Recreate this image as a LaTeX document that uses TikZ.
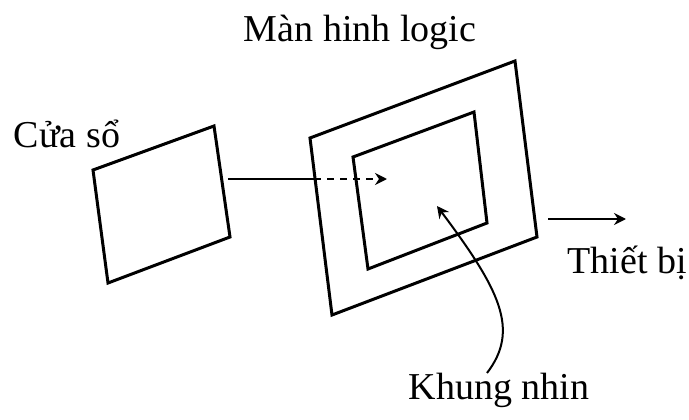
\documentclass[tikz,border=0pt]{standalone}
\usepackage{fontspec}
\setmainfont{Liberation Serif}
\usetikzlibrary{arrows.meta}
\begin{document}
\begin{tikzpicture}[x=1pt,y=-1pt,
  frame/.style={line width=3pt,line join=miter},
  lbl/.style={inner sep=0pt,font=\fontsize{38}{44}\selectfont},
  arr/.style={line width=2pt,-{Stealth[length=12pt,width=12pt,inset=4pt]}}]
\useasboundingbox (0,0) rectangle (689,420);
% window
\coordinate (w1) at (93,170);
\coordinate (w2) at (214,126);
\coordinate (w3) at (230,237);
\coordinate (w4) at (108,283);
\draw[frame] (w1) -- (w2) -- (w3) -- (w4) -- cycle;
% logic screen
\coordinate (s1) at (310,138);
\coordinate (s2) at (515,61);
\coordinate (s3) at (537,237);
\coordinate (s4) at (332,315);
\draw[frame] (s1) -- (s2) -- (s3) -- (s4) -- cycle;
% viewport
\coordinate (v1) at (353,157);
\coordinate (v2) at (474,112);
\coordinate (v3) at (487,223);
\coordinate (v4) at (368,269);
\draw[frame] (v1) -- (v2) -- (v3) -- (v4) -- cycle;
% labels
\node[lbl] (cuaso) at (67,134) {Cửa sổ};
\node[lbl] (manhinh) at (360,32) {Màn hinh logic};
\node[lbl] (thietbi) at (627,263) {Thiết bị};
\node[lbl] (khung) at (499,390) {Khung nhin};
% mapping arrow
\coordinate (a0) at (228,179);
\coordinate (a1) at (314,179);
\coordinate (a2) at (387,179);
\draw[line width=2pt] (a0) -- (a1);
\draw[arr,dash pattern=on 7pt off 6pt] (a1) -- (a2);
% device arrow
\coordinate (d0) at (548,219);
\coordinate (d1) at (626,219);
\draw[arr] (d0) -- (d1);
% viewport pointer
\coordinate (p0) at (487,373);
\coordinate (p1) at (437,206);
\draw[arr] (p0) .. controls (520,330) and (500,290) .. (p1);
\end{tikzpicture}
\end{document}
